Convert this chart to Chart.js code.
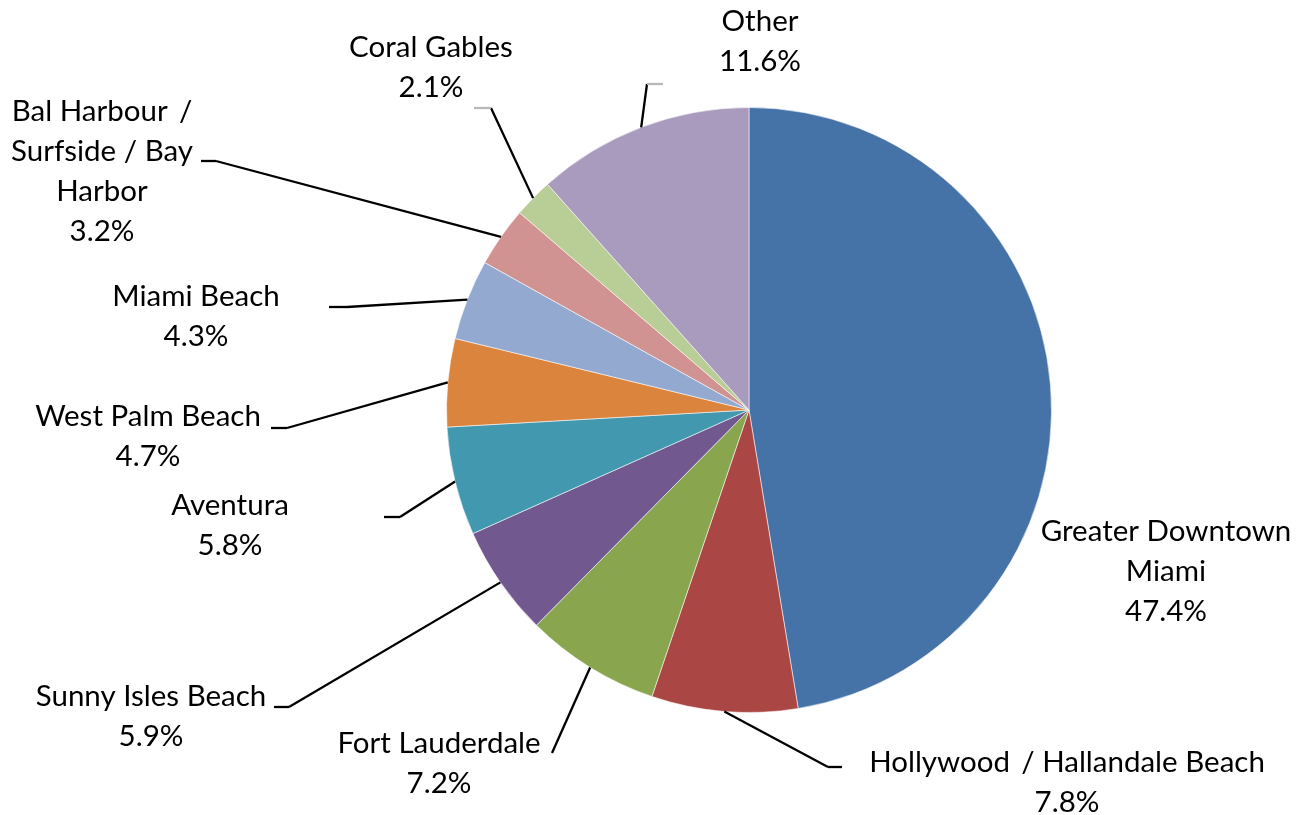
<!DOCTYPE html>
<html>
<head>
<meta charset="utf-8">
<script src="https://cdn.jsdelivr.net/npm/chart.js@4"></script>
<style>
  html, body { margin: 0; padding: 0; background: #fff; }
  #wrap { width: 1303px; height: 815px; }
</style>
</head>
<body>
<div id="wrap"><canvas id="pie" width="1303" height="815"></canvas></div>
<script>
// share of units by submarket (%)
const categories = [
  ['Greater Downtown', 'Miami'],
  ['Hollywood \u2009/ Hallandale Beach'],
  ['Fort Lauderdale'],
  ['Sunny Isles Beach'],
  ['Aventura'],
  ['West Palm Beach'],
  ['Miami Beach'],
  ['Bal Harbour \u2009/', 'Surfside / Bay', 'Harbor'],
  ['Coral Gables'],
  ['Other']
];
const shares = [47.4, 7.8, 7.2, 5.9, 5.8, 4.7, 4.3, 3.2, 2.1, 11.6];
const colors = ['#4572A7', '#AA4643', '#89A54E', '#71588F', '#4198AF',
                '#DB843D', '#93A9CF', '#D19392', '#B9CD96', '#A99BBD'];

// label placement, px from pie centre: [textX, firstLineY]
const labelPos = [
  [417, 121], [318, 352], [-310, 333], [-598, 286], [-519, 95],
  [-601, 6], [-553, -114], [-647, -299], [-318, -363], [11, -389]
];
// leader elbow, px from pie centre, plus short horizontal tick (null = no leader)
const leaderElbow = [
  null, [79, 357, 14], [-197, 343, 0], [-460, 297, -15], [-349, 107, -16],
  [-462, 18, -16], [-402, -103, -18], [-533, -249, -15], [-258, -302, -17], [-102, -326, 16]
];

const FONT = '29.5px Lato, "Open Sans", sans-serif';
const LINE_H = 40;

const pieLabels = {
  id: 'pieLabels',
  afterDatasetsDraw(chart) {
    const ctx = chart.ctx;
    const arcs = chart.getDatasetMeta(0).data;
    ctx.save();
    arcs.forEach((arc, i) => {
      const { x, y, startAngle, endAngle, outerRadius } = arc.getProps(['x', 'y', 'startAngle', 'endAngle', 'outerRadius'], true);
      const mid = (startAngle + endAngle) / 2;
      const el = leaderElbow[i];
      if (el) {
        const ex = x + el[0], ey = y + el[1];
        ctx.beginPath();
        ctx.moveTo(x + Math.cos(mid) * outerRadius, y + Math.sin(mid) * outerRadius);
        ctx.lineTo(ex, ey);
        ctx.strokeStyle = '#000';
        ctx.lineWidth = 2.3;
        ctx.stroke();
        if (el[2]) {
          ctx.beginPath();
          ctx.moveTo(ex, ey);
          ctx.lineTo(ex + el[2], ey);
          // the two top ticks come out lighter
          ctx.strokeStyle = ey < y - 290 ? '#b8b8b8' : '#000';
          ctx.stroke();
        }
      }
      const lines = categories[i].concat([shares[i].toFixed(1) + '%']);
      ctx.font = FONT;
      ctx.fillStyle = '#000';
      ctx.textAlign = 'center';
      ctx.textBaseline = 'middle';
      lines.forEach((t, k) => {
        ctx.fillText(t, x + labelPos[i][0], y + labelPos[i][1] + k * LINE_H);
      });
    });
    ctx.restore();
  }
};

new Chart(document.getElementById('pie'), {
  type: 'pie',
  data: {
    labels: categories.map(c => c.join(' ')),
    datasets: [{
      data: shares,
      backgroundColor: colors,
      borderColor: 'rgba(255,255,255,0.55)',
      borderWidth: 1
    }]
  },
  options: {
    responsive: false,
    animation: false,
    layout: { padding: { left: 446, right: 251, top: 107, bottom: 102 } },
    plugins: {
      legend: { display: false },
      tooltip: { enabled: false }
    }
  },
  plugins: [pieLabels]
});
</script>
</body>
</html>
